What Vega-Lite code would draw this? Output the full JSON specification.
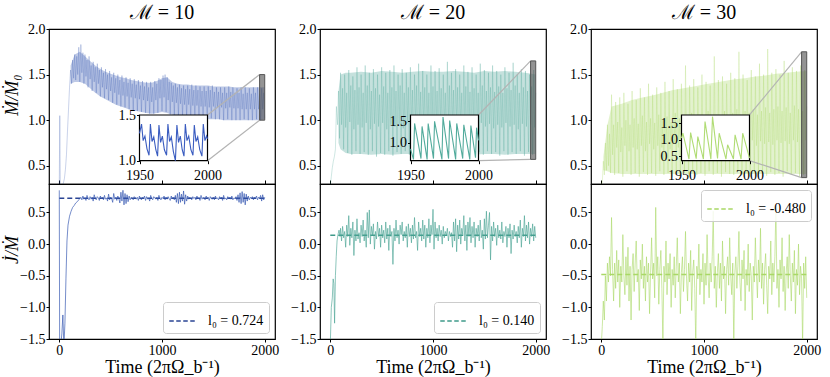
{
"$schema":"https://vega.github.io/schema/vega-lite/v6.json",
"padding":{"left":2,"top":2,"right":2,"bottom":0},
"background":"white",
"datasets":{
"band10":[{"t":110,"v":1.40,"v2":1.60},{"t":150,"v":1.42,"v2":1.72},{"t":200,"v":1.42,"v2":1.75},{"t":250,"v":1.40,"v2":1.70},{"t":300,"v":1.35,"v2":1.65},{"t":350,"v":1.30,"v2":1.60},{"t":400,"v":1.26,"v2":1.56},{"t":450,"v":1.23,"v2":1.53},{"t":500,"v":1.20,"v2":1.51},{"t":550,"v":1.17,"v2":1.49},{"t":600,"v":1.15,"v2":1.47},{"t":650,"v":1.13,"v2":1.46},{"t":700,"v":1.11,"v2":1.44},{"t":750,"v":1.10,"v2":1.43},{"t":800,"v":1.09,"v2":1.42},{"t":850,"v":1.08,"v2":1.41},{"t":900,"v":1.07,"v2":1.41},{"t":950,"v":1.08,"v2":1.43},{"t":1000,"v":1.09,"v2":1.46},{"t":1050,"v":1.08,"v2":1.47},{"t":1100,"v":1.06,"v2":1.42},{"t":1150,"v":1.05,"v2":1.40},{"t":1200,"v":1.04,"v2":1.39},{"t":1250,"v":1.03,"v2":1.39},{"t":1300,"v":1.03,"v2":1.38},{"t":1350,"v":1.02,"v2":1.38},{"t":1400,"v":1.02,"v2":1.38},{"t":1450,"v":1.01,"v2":1.38},{"t":1500,"v":1.01,"v2":1.37},{"t":1550,"v":1.01,"v2":1.37},{"t":1600,"v":1.00,"v2":1.37},{"t":1650,"v":1.00,"v2":1.37},{"t":1700,"v":1.00,"v2":1.36},{"t":1750,"v":1.00,"v2":1.36},{"t":1800,"v":1.00,"v2":1.36},{"t":1850,"v":1.00,"v2":1.36},{"t":1900,"v":1.00,"v2":1.36},{"t":1950,"v":1.00,"v2":1.36},{"t":2000,"v":1.01,"v2":1.36}],
"band20":[{"t":80,"v":0.75,"v2":1.32},{"t":100,"v":0.68,"v2":1.50},{"t":150,"v":0.64,"v2":1.52},{"t":200,"v":0.63,"v2":1.52},{"t":300,"v":0.63,"v2":1.53},{"t":400,"v":0.62,"v2":1.52},{"t":500,"v":0.63,"v2":1.54},{"t":600,"v":0.62,"v2":1.53},{"t":700,"v":0.63,"v2":1.52},{"t":800,"v":0.63,"v2":1.53},{"t":900,"v":0.62,"v2":1.54},{"t":1000,"v":0.63,"v2":1.53},{"t":1100,"v":0.63,"v2":1.53},{"t":1200,"v":0.62,"v2":1.54},{"t":1300,"v":0.63,"v2":1.53},{"t":1400,"v":0.62,"v2":1.52},{"t":1500,"v":0.63,"v2":1.54},{"t":1600,"v":0.63,"v2":1.53},{"t":1700,"v":0.62,"v2":1.54},{"t":1800,"v":0.63,"v2":1.53},{"t":1900,"v":0.63,"v2":1.52},{"t":2000,"v":0.63,"v2":1.50}],
"band30":[{"t":20,"v":0.45,"v2":0.60},{"t":60,"v":0.44,"v2":0.95},{"t":100,"v":0.42,"v2":1.15},{"t":200,"v":0.41,"v2":1.18},{"t":300,"v":0.41,"v2":1.22},{"t":400,"v":0.41,"v2":1.25},{"t":500,"v":0.41,"v2":1.27},{"t":600,"v":0.41,"v2":1.30},{"t":700,"v":0.41,"v2":1.33},{"t":800,"v":0.41,"v2":1.35},{"t":900,"v":0.41,"v2":1.37},{"t":1000,"v":0.41,"v2":1.39},{"t":1100,"v":0.41,"v2":1.41},{"t":1200,"v":0.41,"v2":1.43},{"t":1300,"v":0.41,"v2":1.45},{"t":1400,"v":0.41,"v2":1.46},{"t":1500,"v":0.41,"v2":1.48},{"t":1600,"v":0.41,"v2":1.49},{"t":1700,"v":0.41,"v2":1.51},{"t":1800,"v":0.41,"v2":1.52},{"t":1900,"v":0.41,"v2":1.53},{"t":2000,"v":0.41,"v2":1.54}],
"top10":[{"t":0,"v":0.28},{"t":5,"v":1.05},{"t":10,"v":0.27},{"t":20,"v":0.25},{"t":30,"v":0.28},{"t":40,"v":0.31},{"t":50,"v":0.36},{"t":60,"v":0.46},{"t":70,"v":0.62},{"t":80,"v":0.88},{"t":90,"v":1.12},{"t":100,"v":1.36},{"t":110,"v":1.55},{"t":120,"v":1.40},{"t":130,"v":1.66},{"t":140,"v":1.46},{"t":150,"v":1.72},{"t":160,"v":1.44},{"t":170,"v":1.70},{"t":180,"v":1.50},{"t":190,"v":1.80},{"t":200,"v":1.42},{"t":210,"v":1.83},{"t":220,"v":1.52},{"t":230,"v":1.74},{"t":240,"v":1.40},{"t":250,"v":1.72},{"t":260,"v":1.48},{"t":270,"v":1.66},{"t":280,"v":1.36},{"t":290,"v":1.70},{"t":300,"v":1.45},{"t":310,"v":1.60},{"t":320,"v":1.32},{"t":330,"v":1.64},{"t":340,"v":1.42},{"t":350,"v":1.58},{"t":360,"v":1.30},{"t":370,"v":1.62},{"t":380,"v":1.40},{"t":390,"v":1.55},{"t":400,"v":1.26},{"t":410,"v":1.58},{"t":420,"v":1.36},{"t":430,"v":1.52},{"t":440,"v":1.24},{"t":450,"v":1.56},{"t":460,"v":1.34},{"t":470,"v":1.50},{"t":480,"v":1.22},{"t":490,"v":1.54},{"t":500,"v":1.32},{"t":510,"v":1.47},{"t":520,"v":1.19},{"t":530,"v":1.52},{"t":540,"v":1.30},{"t":550,"v":1.46},{"t":560,"v":1.17},{"t":570,"v":1.50},{"t":580,"v":1.28},{"t":590,"v":1.44},{"t":600,"v":1.15},{"t":610,"v":1.49},{"t":620,"v":1.27},{"t":630,"v":1.42},{"t":640,"v":1.14},{"t":650,"v":1.47},{"t":660,"v":1.26},{"t":670,"v":1.41},{"t":680,"v":1.12},{"t":690,"v":1.46},{"t":700,"v":1.25},{"t":710,"v":1.40},{"t":720,"v":1.11},{"t":730,"v":1.45},{"t":740,"v":1.24},{"t":750,"v":1.39},{"t":760,"v":1.10},{"t":770,"v":1.44},{"t":780,"v":1.23},{"t":790,"v":1.38},{"t":800,"v":1.09},{"t":810,"v":1.43},{"t":820,"v":1.22},{"t":830,"v":1.37},{"t":840,"v":1.08},{"t":850,"v":1.42},{"t":860,"v":1.21},{"t":870,"v":1.36},{"t":880,"v":1.07},{"t":890,"v":1.42},{"t":900,"v":1.20},{"t":910,"v":1.36},{"t":920,"v":1.07},{"t":930,"v":1.43},{"t":940,"v":1.22},{"t":950,"v":1.40},{"t":960,"v":1.08},{"t":970,"v":1.46},{"t":980,"v":1.24},{"t":990,"v":1.44},{"t":1000,"v":1.10},{"t":1010,"v":1.49},{"t":1020,"v":1.25},{"t":1030,"v":1.50},{"t":1040,"v":1.09},{"t":1050,"v":1.47},{"t":1060,"v":1.22},{"t":1070,"v":1.42},{"t":1080,"v":1.06},{"t":1090,"v":1.41},{"t":1100,"v":1.20},{"t":1110,"v":1.38},{"t":1120,"v":1.05},{"t":1130,"v":1.40},{"t":1140,"v":1.19},{"t":1150,"v":1.36},{"t":1160,"v":1.04},{"t":1170,"v":1.39},{"t":1180,"v":1.18},{"t":1190,"v":1.35},{"t":1200,"v":1.04},{"t":1210,"v":1.38},{"t":1220,"v":1.17},{"t":1230,"v":1.34},{"t":1240,"v":1.03},{"t":1250,"v":1.38},{"t":1260,"v":1.17},{"t":1270,"v":1.34},{"t":1280,"v":1.03},{"t":1290,"v":1.39},{"t":1300,"v":1.16},{"t":1310,"v":1.33},{"t":1320,"v":1.02},{"t":1330,"v":1.38},{"t":1340,"v":1.16},{"t":1350,"v":1.33},{"t":1360,"v":1.02},{"t":1370,"v":1.37},{"t":1380,"v":1.15},{"t":1390,"v":1.32},{"t":1400,"v":1.02},{"t":1410,"v":1.37},{"t":1420,"v":1.15},{"t":1430,"v":1.32},{"t":1440,"v":1.01},{"t":1450,"v":1.37},{"t":1460,"v":1.14},{"t":1470,"v":1.33},{"t":1480,"v":1.02},{"t":1490,"v":1.38},{"t":1500,"v":1.15},{"t":1510,"v":1.31},{"t":1520,"v":1.01},{"t":1530,"v":1.36},{"t":1540,"v":1.14},{"t":1550,"v":1.31},{"t":1560,"v":1.01},{"t":1570,"v":1.36},{"t":1580,"v":1.14},{"t":1590,"v":1.30},{"t":1600,"v":1.00},{"t":1610,"v":1.36},{"t":1620,"v":1.13},{"t":1630,"v":1.30},{"t":1640,"v":1.01},{"t":1650,"v":1.37},{"t":1660,"v":1.14},{"t":1670,"v":1.31},{"t":1680,"v":1.00},{"t":1690,"v":1.36},{"t":1700,"v":1.13},{"t":1710,"v":1.30},{"t":1720,"v":1.00},{"t":1730,"v":1.35},{"t":1740,"v":1.13},{"t":1750,"v":1.30},{"t":1760,"v":1.00},{"t":1770,"v":1.36},{"t":1780,"v":1.12},{"t":1790,"v":1.29},{"t":1800,"v":1.01},{"t":1810,"v":1.36},{"t":1820,"v":1.12},{"t":1830,"v":1.30},{"t":1840,"v":1.00},{"t":1850,"v":1.35},{"t":1860,"v":1.12},{"t":1870,"v":1.29},{"t":1880,"v":1.00},{"t":1890,"v":1.36},{"t":1900,"v":1.12},{"t":1910,"v":1.30},{"t":1920,"v":1.01},{"t":1930,"v":1.36},{"t":1940,"v":1.12},{"t":1950,"v":1.29},{"t":1960,"v":1.00},{"t":1970,"v":1.35},{"t":1980,"v":1.12},{"t":1990,"v":1.30},{"t":2000,"v":1.02}],
"top20":[{"t":0,"v":0.28},{"t":10,"v":0.38},{"t":20,"v":0.48},{"t":30,"v":0.55},{"t":40,"v":0.6},{"t":50,"v":0.68},{"t":60,"v":1.15},{"t":70,"v":0.95},{"t":80,"v":1.32},{"t":90,"v":0.80},{"t":100,"v":1.52},{"t":110,"v":0.95},{"t":120,"v":1.35},{"t":130,"v":0.68},{"t":140,"v":1.50},{"t":150,"v":0.92},{"t":160,"v":1.30},{"t":170,"v":0.64},{"t":180,"v":1.55},{"t":190,"v":0.98},{"t":200,"v":1.38},{"t":210,"v":0.62},{"t":220,"v":1.48},{"t":230,"v":0.90},{"t":240,"v":1.33},{"t":250,"v":0.66},{"t":260,"v":1.58},{"t":270,"v":0.95},{"t":280,"v":1.36},{"t":290,"v":0.63},{"t":300,"v":1.50},{"t":310,"v":0.92},{"t":320,"v":1.30},{"t":330,"v":0.65},{"t":340,"v":1.60},{"t":350,"v":0.97},{"t":360,"v":1.38},{"t":370,"v":0.62},{"t":380,"v":1.52},{"t":390,"v":0.90},{"t":400,"v":1.32},{"t":410,"v":0.66},{"t":420,"v":1.56},{"t":430,"v":0.96},{"t":440,"v":1.35},{"t":450,"v":0.60},{"t":460,"v":1.50},{"t":470,"v":0.93},{"t":480,"v":1.28},{"t":490,"v":0.64},{"t":500,"v":1.58},{"t":510,"v":0.97},{"t":520,"v":1.37},{"t":530,"v":0.62},{"t":540,"v":1.52},{"t":550,"v":0.90},{"t":560,"v":1.30},{"t":570,"v":0.66},{"t":580,"v":1.55},{"t":590,"v":0.95},{"t":600,"v":1.36},{"t":610,"v":0.61},{"t":620,"v":1.60},{"t":630,"v":0.93},{"t":640,"v":1.32},{"t":650,"v":0.65},{"t":660,"v":1.50},{"t":670,"v":0.96},{"t":680,"v":1.38},{"t":690,"v":0.63},{"t":700,"v":1.56},{"t":710,"v":0.91},{"t":720,"v":1.30},{"t":730,"v":0.66},{"t":740,"v":1.52},{"t":750,"v":0.97},{"t":760,"v":1.36},{"t":770,"v":0.62},{"t":780,"v":1.58},{"t":790,"v":0.92},{"t":800,"v":1.33},{"t":810,"v":0.65},{"t":820,"v":1.50},{"t":830,"v":0.96},{"t":840,"v":1.38},{"t":850,"v":0.63},{"t":860,"v":1.62},{"t":870,"v":0.93},{"t":880,"v":1.31},{"t":890,"v":0.66},{"t":900,"v":1.54},{"t":910,"v":0.95},{"t":920,"v":1.36},{"t":930,"v":0.61},{"t":940,"v":1.50},{"t":950,"v":0.92},{"t":960,"v":1.30},{"t":970,"v":0.65},{"t":980,"v":1.60},{"t":990,"v":0.97},{"t":1000,"v":1.37},{"t":1010,"v":0.62},{"t":1020,"v":1.54},{"t":1030,"v":0.90},{"t":1040,"v":1.32},{"t":1050,"v":0.66},{"t":1060,"v":1.57},{"t":1070,"v":0.96},{"t":1080,"v":1.35},{"t":1090,"v":0.63},{"t":1100,"v":1.50},{"t":1110,"v":0.93},{"t":1120,"v":1.30},{"t":1130,"v":0.65},{"t":1140,"v":1.64},{"t":1150,"v":0.95},{"t":1160,"v":1.38},{"t":1170,"v":0.61},{"t":1180,"v":1.52},{"t":1190,"v":0.91},{"t":1200,"v":1.33},{"t":1210,"v":0.66},{"t":1220,"v":1.56},{"t":1230,"v":0.97},{"t":1240,"v":1.36},{"t":1250,"v":0.62},{"t":1260,"v":1.50},{"t":1270,"v":0.93},{"t":1280,"v":1.30},{"t":1290,"v":0.65},{"t":1300,"v":1.60},{"t":1310,"v":0.96},{"t":1320,"v":1.37},{"t":1330,"v":0.63},{"t":1340,"v":1.53},{"t":1350,"v":0.92},{"t":1360,"v":1.31},{"t":1370,"v":0.66},{"t":1380,"v":1.58},{"t":1390,"v":0.95},{"t":1400,"v":1.35},{"t":1410,"v":0.61},{"t":1420,"v":1.50},{"t":1430,"v":0.90},{"t":1440,"v":1.30},{"t":1450,"v":0.65},{"t":1460,"v":1.62},{"t":1470,"v":0.97},{"t":1480,"v":1.38},{"t":1490,"v":0.62},{"t":1500,"v":1.55},{"t":1510,"v":0.93},{"t":1520,"v":1.32},{"t":1530,"v":0.66},{"t":1540,"v":1.52},{"t":1550,"v":0.96},{"t":1560,"v":1.36},{"t":1570,"v":0.63},{"t":1580,"v":1.60},{"t":1590,"v":0.91},{"t":1600,"v":1.31},{"t":1610,"v":0.65},{"t":1620,"v":1.54},{"t":1630,"v":0.95},{"t":1640,"v":1.37},{"t":1650,"v":0.61},{"t":1660,"v":1.50},{"t":1670,"v":0.92},{"t":1680,"v":1.30},{"t":1690,"v":0.66},{"t":1700,"v":1.58},{"t":1710,"v":0.97},{"t":1720,"v":1.35},{"t":1730,"v":0.62},{"t":1740,"v":1.52},{"t":1750,"v":0.93},{"t":1760,"v":1.33},{"t":1770,"v":0.65},{"t":1780,"v":1.63},{"t":1790,"v":0.95},{"t":1800,"v":1.38},{"t":1810,"v":0.63},{"t":1820,"v":1.50},{"t":1830,"v":0.90},{"t":1840,"v":1.30},{"t":1850,"v":0.66},{"t":1860,"v":1.56},{"t":1870,"v":0.96},{"t":1880,"v":1.36},{"t":1890,"v":0.61},{"t":1900,"v":1.54},{"t":1910,"v":0.93},{"t":1920,"v":1.32},{"t":1930,"v":0.65},{"t":1940,"v":1.50},{"t":1950,"v":0.95},{"t":1960,"v":1.37},{"t":1970,"v":0.62},{"t":1980,"v":1.55},{"t":1990,"v":0.92},{"t":2000,"v":1.30}],
"top30":[{"t":0,"v":0.30},{"t":10,"v":0.32},{"t":20,"v":0.55},{"t":30,"v":0.40},{"t":40,"v":0.75},{"t":50,"v":0.45},{"t":60,"v":0.95},{"t":70,"v":0.50},{"t":80,"v":0.85},{"t":90,"v":0.42},{"t":100,"v":1.28},{"t":110,"v":0.62},{"t":120,"v":0.95},{"t":130,"v":0.40},{"t":140,"v":1.20},{"t":150,"v":0.70},{"t":160,"v":0.98},{"t":170,"v":0.42},{"t":180,"v":1.25},{"t":190,"v":0.65},{"t":200,"v":0.92},{"t":210,"v":0.38},{"t":220,"v":1.30},{"t":230,"v":0.72},{"t":240,"v":1.00},{"t":250,"v":0.44},{"t":260,"v":1.18},{"t":270,"v":0.66},{"t":280,"v":0.95},{"t":290,"v":0.40},{"t":300,"v":1.32},{"t":310,"v":0.70},{"t":320,"v":1.02},{"t":330,"v":0.42},{"t":340,"v":1.22},{"t":350,"v":0.68},{"t":360,"v":0.96},{"t":370,"v":0.38},{"t":380,"v":1.35},{"t":390,"v":0.72},{"t":400,"v":1.05},{"t":410,"v":0.43},{"t":420,"v":1.25},{"t":430,"v":0.66},{"t":440,"v":0.98},{"t":450,"v":0.40},{"t":460,"v":1.40},{"t":470,"v":0.74},{"t":480,"v":1.02},{"t":490,"v":0.42},{"t":500,"v":1.28},{"t":510,"v":0.68},{"t":520,"v":0.97},{"t":530,"v":0.39},{"t":540,"v":1.36},{"t":550,"v":0.72},{"t":560,"v":1.06},{"t":570,"v":0.44},{"t":580,"v":1.30},{"t":590,"v":0.70},{"t":600,"v":1.00},{"t":610,"v":0.40},{"t":620,"v":1.42},{"t":630,"v":0.75},{"t":640,"v":1.04},{"t":650,"v":0.42},{"t":660,"v":1.32},{"t":670,"v":0.68},{"t":680,"v":0.98},{"t":690,"v":0.38},{"t":700,"v":1.45},{"t":710,"v":0.74},{"t":720,"v":1.08},{"t":730,"v":0.44},{"t":740,"v":1.34},{"t":750,"v":0.70},{"t":760,"v":1.02},{"t":770,"v":0.40},{"t":780,"v":1.40},{"t":790,"v":0.76},{"t":800,"v":1.05},{"t":810,"v":0.42},{"t":820,"v":1.60},{"t":830,"v":0.70},{"t":840,"v":1.00},{"t":850,"v":0.38},{"t":860,"v":1.38},{"t":870,"v":0.74},{"t":880,"v":1.08},{"t":890,"v":0.43},{"t":900,"v":1.45},{"t":910,"v":0.72},{"t":920,"v":1.03},{"t":930,"v":0.40},{"t":940,"v":1.36},{"t":950,"v":0.76},{"t":960,"v":1.06},{"t":970,"v":0.42},{"t":980,"v":1.50},{"t":990,"v":0.70},{"t":1000,"v":1.02},{"t":1010,"v":0.39},{"t":1020,"v":1.42},{"t":1030,"v":0.75},{"t":1040,"v":1.10},{"t":1050,"v":0.44},{"t":1060,"v":1.38},{"t":1070,"v":0.72},{"t":1080,"v":1.04},{"t":1090,"v":0.40},{"t":1100,"v":1.70},{"t":1110,"v":0.76},{"t":1120,"v":1.06},{"t":1130,"v":0.42},{"t":1140,"v":1.44},{"t":1150,"v":0.70},{"t":1160,"v":1.02},{"t":1170,"v":0.38},{"t":1180,"v":1.48},{"t":1190,"v":0.77},{"t":1200,"v":1.10},{"t":1210,"v":0.43},{"t":1220,"v":1.40},{"t":1230,"v":0.74},{"t":1240,"v":1.05},{"t":1250,"v":0.41},{"t":1260,"v":1.52},{"t":1270,"v":0.72},{"t":1280,"v":1.08},{"t":1290,"v":0.40},{"t":1300,"v":1.46},{"t":1310,"v":0.78},{"t":1320,"v":1.12},{"t":1330,"v":0.44},{"t":1340,"v":1.75},{"t":1350,"v":0.73},{"t":1360,"v":1.06},{"t":1370,"v":0.40},{"t":1380,"v":1.50},{"t":1390,"v":0.76},{"t":1400,"v":1.10},{"t":1410,"v":0.42},{"t":1420,"v":1.44},{"t":1430,"v":0.74},{"t":1440,"v":1.08},{"t":1450,"v":0.38},{"t":1460,"v":1.55},{"t":1470,"v":0.78},{"t":1480,"v":1.12},{"t":1490,"v":0.43},{"t":1500,"v":1.48},{"t":1510,"v":0.72},{"t":1520,"v":1.06},{"t":1530,"v":0.40},{"t":1540,"v":1.62},{"t":1550,"v":0.77},{"t":1560,"v":1.10},{"t":1570,"v":0.42},{"t":1580,"v":1.50},{"t":1590,"v":0.74},{"t":1600,"v":1.14},{"t":1610,"v":0.39},{"t":1620,"v":1.78},{"t":1630,"v":0.76},{"t":1640,"v":1.08},{"t":1650,"v":0.43},{"t":1660,"v":1.52},{"t":1670,"v":0.73},{"t":1680,"v":1.12},{"t":1690,"v":0.40},{"t":1700,"v":1.56},{"t":1710,"v":0.78},{"t":1720,"v":1.15},{"t":1730,"v":0.42},{"t":1740,"v":1.50},{"t":1750,"v":0.75},{"t":1760,"v":1.10},{"t":1770,"v":0.38},{"t":1780,"v":1.65},{"t":1790,"v":0.77},{"t":1800,"v":1.14},{"t":1810,"v":0.44},{"t":1820,"v":1.52},{"t":1830,"v":0.74},{"t":1840,"v":1.08},{"t":1850,"v":0.40},{"t":1860,"v":1.58},{"t":1870,"v":0.78},{"t":1880,"v":1.16},{"t":1890,"v":0.42},{"t":1900,"v":1.54},{"t":1910,"v":0.76},{"t":1920,"v":1.12},{"t":1930,"v":0.38},{"t":1940,"v":1.60},{"t":1950,"v":0.75},{"t":1960,"v":1.10},{"t":1970,"v":0.40},{"t":1980,"v":1.55},{"t":1990,"v":0.78},{"t":2000,"v":1.15}],
"bot10":[{"t":0,"v":0.85},{"t":4,"v":-1.8},{"t":15,"v":-1.6},{"t":25,"v":-1.42},{"t":35,"v":-1.12},{"t":45,"v":-1.62},{"t":55,"v":-1.25},{"t":65,"v":-0.55},{"t":75,"v":0.05},{"t":85,"v":0.3},{"t":100,"v":0.44},{"t":115,"v":0.52},{"t":130,"v":0.58},{"t":145,"v":0.61},{"t":160,"v":0.65},{"t":175,"v":0.67},{"t":190,"v":0.70},{"t":200,"v":0.72},{"t":210,"v":0.74},{"t":220,"v":0.70},{"t":230,"v":0.76},{"t":240,"v":0.71},{"t":250,"v":0.73},{"t":260,"v":0.69},{"t":270,"v":0.77},{"t":280,"v":0.72},{"t":290,"v":0.70},{"t":300,"v":0.75},{"t":310,"v":0.71},{"t":320,"v":0.74},{"t":330,"v":0.68},{"t":340,"v":0.78},{"t":350,"v":0.72},{"t":360,"v":0.70},{"t":370,"v":0.75},{"t":380,"v":0.73},{"t":390,"v":0.69},{"t":400,"v":0.76},{"t":410,"v":0.72},{"t":420,"v":0.74},{"t":430,"v":0.70},{"t":440,"v":0.77},{"t":450,"v":0.71},{"t":460,"v":0.73},{"t":470,"v":0.68},{"t":480,"v":0.79},{"t":490,"v":0.70},{"t":500,"v":0.74},{"t":510,"v":0.72},{"t":520,"v":0.66},{"t":530,"v":0.80},{"t":540,"v":0.71},{"t":550,"v":0.74},{"t":560,"v":0.69},{"t":570,"v":0.76},{"t":580,"v":0.72},{"t":590,"v":0.65},{"t":600,"v":0.82},{"t":610,"v":0.68},{"t":620,"v":0.85},{"t":630,"v":0.62},{"t":640,"v":0.80},{"t":650,"v":0.64},{"t":660,"v":0.78},{"t":670,"v":0.67},{"t":680,"v":0.76},{"t":690,"v":0.70},{"t":700,"v":0.74},{"t":710,"v":0.72},{"t":720,"v":0.70},{"t":730,"v":0.75},{"t":740,"v":0.73},{"t":750,"v":0.71},{"t":760,"v":0.74},{"t":770,"v":0.69},{"t":780,"v":0.76},{"t":790,"v":0.72},{"t":800,"v":0.70},{"t":810,"v":0.74},{"t":820,"v":0.72},{"t":830,"v":0.76},{"t":840,"v":0.69},{"t":850,"v":0.75},{"t":860,"v":0.71},{"t":870,"v":0.73},{"t":880,"v":0.68},{"t":890,"v":0.77},{"t":900,"v":0.72},{"t":910,"v":0.70},{"t":920,"v":0.75},{"t":930,"v":0.73},{"t":940,"v":0.71},{"t":950,"v":0.74},{"t":960,"v":0.69},{"t":970,"v":0.77},{"t":980,"v":0.72},{"t":990,"v":0.70},{"t":1000,"v":0.74},{"t":1010,"v":0.72},{"t":1020,"v":0.76},{"t":1030,"v":0.70},{"t":1040,"v":0.74},{"t":1050,"v":0.71},{"t":1060,"v":0.75},{"t":1070,"v":0.72},{"t":1080,"v":0.69},{"t":1090,"v":0.76},{"t":1100,"v":0.72},{"t":1110,"v":0.74},{"t":1120,"v":0.70},{"t":1130,"v":0.77},{"t":1140,"v":0.66},{"t":1150,"v":0.80},{"t":1160,"v":0.64},{"t":1170,"v":0.82},{"t":1180,"v":0.66},{"t":1190,"v":0.79},{"t":1200,"v":0.68},{"t":1210,"v":0.84},{"t":1220,"v":0.63},{"t":1230,"v":0.78},{"t":1240,"v":0.68},{"t":1250,"v":0.76},{"t":1260,"v":0.71},{"t":1270,"v":0.74},{"t":1280,"v":0.72},{"t":1290,"v":0.70},{"t":1300,"v":0.75},{"t":1310,"v":0.72},{"t":1320,"v":0.74},{"t":1330,"v":0.70},{"t":1340,"v":0.76},{"t":1350,"v":0.72},{"t":1360,"v":0.73},{"t":1370,"v":0.69},{"t":1380,"v":0.77},{"t":1390,"v":0.71},{"t":1400,"v":0.74},{"t":1410,"v":0.72},{"t":1420,"v":0.70},{"t":1430,"v":0.76},{"t":1440,"v":0.72},{"t":1450,"v":0.74},{"t":1460,"v":0.69},{"t":1470,"v":0.75},{"t":1480,"v":0.72},{"t":1490,"v":0.71},{"t":1500,"v":0.74},{"t":1510,"v":0.70},{"t":1520,"v":0.76},{"t":1530,"v":0.72},{"t":1540,"v":0.73},{"t":1550,"v":0.70},{"t":1560,"v":0.75},{"t":1570,"v":0.72},{"t":1580,"v":0.74},{"t":1590,"v":0.69},{"t":1600,"v":0.77},{"t":1610,"v":0.71},{"t":1620,"v":0.73},{"t":1630,"v":0.70},{"t":1640,"v":0.75},{"t":1650,"v":0.72},{"t":1660,"v":0.74},{"t":1670,"v":0.71},{"t":1680,"v":0.76},{"t":1690,"v":0.70},{"t":1700,"v":0.73},{"t":1710,"v":0.72},{"t":1720,"v":0.75},{"t":1730,"v":0.69},{"t":1740,"v":0.78},{"t":1750,"v":0.66},{"t":1760,"v":0.81},{"t":1770,"v":0.64},{"t":1780,"v":0.83},{"t":1790,"v":0.66},{"t":1800,"v":0.80},{"t":1810,"v":0.62},{"t":1820,"v":0.79},{"t":1830,"v":0.68},{"t":1840,"v":0.76},{"t":1850,"v":0.70},{"t":1860,"v":0.74},{"t":1870,"v":0.72},{"t":1880,"v":0.75},{"t":1890,"v":0.70},{"t":1900,"v":0.74},{"t":1910,"v":0.72},{"t":1920,"v":0.76},{"t":1930,"v":0.70},{"t":1940,"v":0.74},{"t":1950,"v":0.72},{"t":1960,"v":0.77},{"t":1970,"v":0.68},{"t":1980,"v":0.78},{"t":1990,"v":0.70},{"t":2000,"v":0.74}],
"bot20":[{"t":0,"v":-1.6},{"t":10,"v":-1.0},{"t":20,"v":-0.85},{"t":28,"v":-0.55},{"t":35,"v":-0.62},{"t":42,"v":-1.25},{"t":50,"v":-0.5},{"t":58,"v":-0.2},{"t":66,"v":0.05},{"t":75,"v":0.15},{"t":85,"v":0.22},{"t":95,"v":0.12},{"t":100,"v":0.25},{"t":110,"v":0.05},{"t":120,"v":0.28},{"t":130,"v":0.10},{"t":140,"v":0.20},{"t":150,"v":-0.05},{"t":160,"v":0.30},{"t":170,"v":0.12},{"t":180,"v":0.45},{"t":190,"v":-0.02},{"t":200,"v":0.25},{"t":210,"v":0.10},{"t":220,"v":0.35},{"t":230,"v":-0.18},{"t":240,"v":0.22},{"t":250,"v":0.05},{"t":260,"v":0.40},{"t":270,"v":0.08},{"t":280,"v":0.18},{"t":290,"v":0.02},{"t":300,"v":0.30},{"t":310,"v":0.12},{"t":320,"v":0.38},{"t":330,"v":0.05},{"t":340,"v":0.22},{"t":350,"v":-0.05},{"t":360,"v":0.50},{"t":370,"v":0.10},{"t":380,"v":0.54},{"t":390,"v":0.00},{"t":400,"v":0.28},{"t":410,"v":0.14},{"t":420,"v":0.32},{"t":430,"v":-0.08},{"t":440,"v":0.20},{"t":450,"v":0.08},{"t":460,"v":0.35},{"t":470,"v":0.12},{"t":480,"v":0.25},{"t":490,"v":-0.05},{"t":500,"v":0.30},{"t":510,"v":0.10},{"t":520,"v":0.22},{"t":530,"v":0.02},{"t":540,"v":0.35},{"t":550,"v":0.08},{"t":560,"v":0.25},{"t":570,"v":-0.10},{"t":580,"v":0.30},{"t":590,"v":0.12},{"t":600,"v":0.20},{"t":610,"v":-0.32},{"t":620,"v":0.25},{"t":630,"v":0.05},{"t":640,"v":0.38},{"t":650,"v":0.10},{"t":660,"v":0.22},{"t":670,"v":0.00},{"t":680,"v":0.30},{"t":690,"v":0.15},{"t":700,"v":0.35},{"t":710,"v":0.05},{"t":720,"v":0.20},{"t":730,"v":0.10},{"t":740,"v":0.28},{"t":750,"v":-0.05},{"t":760,"v":0.32},{"t":770,"v":0.12},{"t":780,"v":0.25},{"t":790,"v":0.02},{"t":800,"v":0.30},{"t":810,"v":0.08},{"t":820,"v":0.42},{"t":830,"v":0.10},{"t":840,"v":0.20},{"t":850,"v":-0.10},{"t":860,"v":0.35},{"t":870,"v":0.12},{"t":880,"v":0.25},{"t":890,"v":0.05},{"t":900,"v":0.38},{"t":910,"v":0.08},{"t":920,"v":0.30},{"t":930,"v":-0.05},{"t":940,"v":0.25},{"t":950,"v":0.10},{"t":960,"v":0.40},{"t":970,"v":0.02},{"t":980,"v":0.30},{"t":990,"v":0.15},{"t":1000,"v":0.55},{"t":1010,"v":-0.08},{"t":1020,"v":0.35},{"t":1030,"v":0.10},{"t":1040,"v":0.25},{"t":1050,"v":0.05},{"t":1060,"v":0.30},{"t":1070,"v":0.12},{"t":1080,"v":0.22},{"t":1090,"v":0.00},{"t":1100,"v":0.28},{"t":1110,"v":0.10},{"t":1120,"v":0.20},{"t":1130,"v":0.14},{"t":1140,"v":0.25},{"t":1150,"v":0.05},{"t":1160,"v":0.20},{"t":1170,"v":0.12},{"t":1180,"v":0.18},{"t":1190,"v":-0.05},{"t":1200,"v":0.35},{"t":1210,"v":0.05},{"t":1220,"v":0.40},{"t":1230,"v":-0.12},{"t":1240,"v":0.30},{"t":1250,"v":0.08},{"t":1260,"v":0.38},{"t":1270,"v":0.00},{"t":1280,"v":0.25},{"t":1290,"v":0.15},{"t":1300,"v":0.45},{"t":1310,"v":0.05},{"t":1320,"v":0.30},{"t":1330,"v":-0.10},{"t":1340,"v":0.35},{"t":1350,"v":0.12},{"t":1360,"v":0.42},{"t":1370,"v":0.02},{"t":1380,"v":0.28},{"t":1390,"v":0.10},{"t":1400,"v":0.35},{"t":1410,"v":-0.05},{"t":1420,"v":0.25},{"t":1430,"v":0.12},{"t":1440,"v":0.30},{"t":1450,"v":0.05},{"t":1460,"v":0.38},{"t":1470,"v":0.10},{"t":1480,"v":0.22},{"t":1490,"v":-0.08},{"t":1500,"v":0.40},{"t":1510,"v":0.08},{"t":1520,"v":0.52},{"t":1530,"v":0.10},{"t":1540,"v":0.30},{"t":1550,"v":0.50},{"t":1560,"v":-0.25},{"t":1570,"v":0.28},{"t":1580,"v":0.05},{"t":1590,"v":0.35},{"t":1600,"v":0.12},{"t":1610,"v":0.25},{"t":1620,"v":-0.02},{"t":1630,"v":0.30},{"t":1640,"v":0.10},{"t":1650,"v":0.22},{"t":1660,"v":0.08},{"t":1670,"v":0.35},{"t":1680,"v":0.02},{"t":1690,"v":0.20},{"t":1700,"v":0.12},{"t":1710,"v":0.28},{"t":1720,"v":-0.05},{"t":1730,"v":0.25},{"t":1740,"v":0.10},{"t":1750,"v":0.32},{"t":1760,"v":-0.15},{"t":1770,"v":0.22},{"t":1780,"v":0.08},{"t":1790,"v":0.30},{"t":1800,"v":0.12},{"t":1810,"v":0.20},{"t":1820,"v":0.02},{"t":1830,"v":0.28},{"t":1840,"v":0.10},{"t":1850,"v":0.38},{"t":1860,"v":-0.05},{"t":1870,"v":0.25},{"t":1880,"v":0.12},{"t":1890,"v":0.45},{"t":1900,"v":0.05},{"t":1910,"v":0.30},{"t":1920,"v":0.10},{"t":1930,"v":0.35},{"t":1940,"v":0.00},{"t":1950,"v":0.25},{"t":1960,"v":0.12},{"t":1970,"v":0.32},{"t":1980,"v":0.05},{"t":1990,"v":0.28},{"t":2000,"v":0.10}],
"bot30":[{"t":0,"v":-1.6},{"t":10,"v":-1.3},{"t":20,"v":-0.9},{"t":30,"v":-1.2},{"t":40,"v":-0.5},{"t":50,"v":-0.9},{"t":60,"v":-0.3},{"t":70,"v":-0.6},{"t":80,"v":-0.2},{"t":90,"v":-0.5},{"t":100,"v":0.42},{"t":110,"v":-0.4},{"t":120,"v":-0.9},{"t":130,"v":-0.3},{"t":140,"v":-0.7},{"t":150,"v":-0.1},{"t":160,"v":-0.6},{"t":170,"v":-0.25},{"t":180,"v":-1.0},{"t":190,"v":-0.35},{"t":200,"v":-0.6},{"t":210,"v":0.15},{"t":220,"v":-0.5},{"t":230,"v":-0.8},{"t":240,"v":-0.2},{"t":250,"v":-0.65},{"t":260,"v":-0.05},{"t":270,"v":-0.9},{"t":280,"v":-0.35},{"t":290,"v":-1.2},{"t":300,"v":-0.4},{"t":310,"v":-0.15},{"t":320,"v":-0.75},{"t":330,"v":-0.3},{"t":340,"v":0.05},{"t":350,"v":-0.6},{"t":360,"v":-0.4},{"t":370,"v":-1.05},{"t":380,"v":-0.25},{"t":390,"v":-0.55},{"t":400,"v":0.0},{"t":410,"v":-0.7},{"t":420,"v":-0.35},{"t":430,"v":-0.9},{"t":440,"v":-0.2},{"t":450,"v":-0.6},{"t":460,"v":-0.3},{"t":470,"v":-1.1},{"t":480,"v":-0.45},{"t":490,"v":0.1},{"t":500,"v":-0.55},{"t":510,"v":-0.3},{"t":520,"v":-0.85},{"t":530,"v":0.58},{"t":540,"v":-0.5},{"t":550,"v":-0.2},{"t":560,"v":-0.95},{"t":570,"v":-0.4},{"t":580,"v":-0.1},{"t":590,"v":-0.7},{"t":600,"v":-1.6},{"t":610,"v":-0.35},{"t":620,"v":-0.6},{"t":630,"v":0.05},{"t":640,"v":-0.8},{"t":650,"v":-0.3},{"t":660,"v":-0.55},{"t":670,"v":-0.15},{"t":680,"v":-1.0},{"t":690,"v":-0.4},{"t":700,"v":-0.65},{"t":710,"v":-0.2},{"t":720,"v":-0.85},{"t":730,"v":-0.35},{"t":740,"v":0.1},{"t":750,"v":-0.6},{"t":760,"v":-0.3},{"t":770,"v":-1.1},{"t":780,"v":-0.45},{"t":790,"v":-0.2},{"t":800,"v":-0.75},{"t":810,"v":-0.4},{"t":820,"v":0.2},{"t":830,"v":-0.55},{"t":840,"v":-0.9},{"t":850,"v":-0.3},{"t":860,"v":-0.6},{"t":870,"v":-0.1},{"t":880,"v":-1.05},{"t":890,"v":-0.45},{"t":900,"v":-0.25},{"t":910,"v":-0.7},{"t":920,"v":-1.6},{"t":930,"v":-0.35},{"t":940,"v":-0.55},{"t":950,"v":0.0},{"t":960,"v":-0.8},{"t":970,"v":-0.4},{"t":980,"v":-0.6},{"t":990,"v":-0.15},{"t":1000,"v":-0.95},{"t":1010,"v":-0.3},{"t":1020,"v":-0.65},{"t":1030,"v":0.15},{"t":1040,"v":-0.5},{"t":1050,"v":-0.85},{"t":1060,"v":-0.3},{"t":1070,"v":-0.6},{"t":1080,"v":-0.2},{"t":1090,"v":0.52},{"t":1100,"v":-0.7},{"t":1110,"v":-0.35},{"t":1120,"v":-1.0},{"t":1130,"v":-0.45},{"t":1140,"v":-0.15},{"t":1150,"v":-0.7},{"t":1160,"v":-0.3},{"t":1170,"v":-0.9},{"t":1180,"v":0.05},{"t":1190,"v":-0.55},{"t":1200,"v":-0.35},{"t":1210,"v":-1.1},{"t":1220,"v":-0.4},{"t":1230,"v":-0.2},{"t":1240,"v":-0.65},{"t":1250,"v":0.1},{"t":1260,"v":-0.5},{"t":1270,"v":-0.8},{"t":1280,"v":-0.3},{"t":1290,"v":-1.6},{"t":1300,"v":-0.45},{"t":1310,"v":-0.2},{"t":1320,"v":-0.7},{"t":1330,"v":-0.35},{"t":1340,"v":0.2},{"t":1350,"v":-0.6},{"t":1360,"v":-0.9},{"t":1370,"v":-0.25},{"t":1380,"v":-0.55},{"t":1390,"v":-0.1},{"t":1400,"v":-1.05},{"t":1410,"v":-0.4},{"t":1420,"v":-0.65},{"t":1430,"v":0.0},{"t":1440,"v":-0.75},{"t":1450,"v":-0.3},{"t":1460,"v":-0.5},{"t":1470,"v":-1.2},{"t":1480,"v":-0.35},{"t":1490,"v":-0.6},{"t":1500,"v":0.1},{"t":1510,"v":-0.45},{"t":1520,"v":-0.85},{"t":1530,"v":-0.25},{"t":1540,"v":-0.6},{"t":1550,"v":0.25},{"t":1560,"v":-0.7},{"t":1570,"v":-0.3},{"t":1580,"v":-0.95},{"t":1590,"v":-0.4},{"t":1600,"v":-0.15},{"t":1610,"v":-0.65},{"t":1620,"v":-1.1},{"t":1630,"v":-0.35},{"t":1640,"v":-0.55},{"t":1650,"v":0.05},{"t":1660,"v":-0.8},{"t":1670,"v":-0.3},{"t":1680,"v":-0.6},{"t":1690,"v":-0.2},{"t":1700,"v":0.6},{"t":1710,"v":-0.7},{"t":1720,"v":-0.4},{"t":1730,"v":-1.0},{"t":1740,"v":-0.25},{"t":1750,"v":-0.55},{"t":1760,"v":0.1},{"t":1770,"v":-0.75},{"t":1780,"v":-0.35},{"t":1790,"v":-1.05},{"t":1800,"v":-0.45},{"t":1810,"v":-0.2},{"t":1820,"v":-0.7},{"t":1830,"v":0.15},{"t":1840,"v":-0.5},{"t":1850,"v":-0.9},{"t":1860,"v":-0.3},{"t":1870,"v":-0.6},{"t":1880,"v":-0.1},{"t":1890,"v":-1.1},{"t":1900,"v":-0.4},{"t":1910,"v":-0.65},{"t":1920,"v":0.0},{"t":1930,"v":-0.8},{"t":1940,"v":-0.35},{"t":1950,"v":-0.55},{"t":1960,"v":-1.6},{"t":1970,"v":-0.3},{"t":1980,"v":-0.7},{"t":1990,"v":-0.2},{"t":2000,"v":-0.85}],
"in10":[{"t":1950,"v":1.30},{"t":1951.5,"v":1.40},{"t":1952.7,"v":1.22},{"t":1954,"v":1.27},{"t":1955.5,"v":1.13},{"t":1957,"v":1.06},{"t":1958,"v":1.40},{"t":1959.2,"v":1.21},{"t":1960.5,"v":1.26},{"t":1962,"v":1.12},{"t":1963.3,"v":1.05},{"t":1964.3,"v":1.39},{"t":1965.5,"v":1.20},{"t":1966.8,"v":1.27},{"t":1968.3,"v":1.12},{"t":1969.9,"v":1.06},{"t":1970.9,"v":1.40},{"t":1972.1,"v":1.21},{"t":1973.4,"v":1.26},{"t":1974.9,"v":1.10},{"t":1976.4,"v":1.00},{"t":1977.5,"v":1.39},{"t":1978.7,"v":1.20},{"t":1980,"v":1.27},{"t":1981.4,"v":1.12},{"t":1982.7,"v":1.05},{"t":1983.7,"v":1.40},{"t":1984.9,"v":1.22},{"t":1986.2,"v":1.27},{"t":1987.8,"v":1.12},{"t":1989.3,"v":1.06},{"t":1990.3,"v":1.39},{"t":1991.5,"v":1.21},{"t":1992.8,"v":1.26},{"t":1994.3,"v":1.12},{"t":1995.9,"v":1.05},{"t":1996.9,"v":1.40},{"t":1998.1,"v":1.22},{"t":1999.3,"v":1.27},{"t":2000,"v":1.24}],
"in20":[{"t":1950,"v":0.85},{"t":1952.2,"v":0.60},{"t":1953,"v":1.45},{"t":1957.7,"v":0.62},{"t":1958.5,"v":1.38},{"t":1962.2,"v":0.60},{"t":1963,"v":1.45},{"t":1966.9,"v":0.62},{"t":1967.7,"v":1.50},{"t":1973.1,"v":0.60},{"t":1973.9,"v":1.60},{"t":1978,"v":0.62},{"t":1978.8,"v":1.52},{"t":1983.2,"v":0.60},{"t":1984,"v":1.45},{"t":1988.4,"v":0.62},{"t":1989.2,"v":1.42},{"t":1993.6,"v":0.60},{"t":1994.4,"v":1.40},{"t":1997.8,"v":0.64},{"t":1998.6,"v":1.35},{"t":2000,"v":1.05}],
"in30":[{"t":1950,"v":1.05},{"t":1951,"v":1.20},{"t":1955.5,"v":0.42},{"t":1956.7,"v":1.22},{"t":1960.8,"v":0.43},{"t":1962,"v":1.10},{"t":1966.1,"v":0.42},{"t":1967.3,"v":1.55},{"t":1971.6,"v":0.42},{"t":1972.8,"v":1.70},{"t":1976.5,"v":0.44},{"t":1977.7,"v":1.20},{"t":1982.7,"v":0.42},{"t":1983.9,"v":0.85},{"t":1988.2,"v":0.42},{"t":1989.4,"v":1.15},{"t":1993.8,"v":0.42},{"t":1995,"v":1.20},{"t":2000,"v":0.45}]
},
"concat":[
{"width":226,"height":155,"title":{"text":"ℳ = 10"},
 "resolve":{"scale":{"x":"independent","y":"independent"},"axis":{"x":"independent","y":"independent"}},
 "layer":[
  {"encoding":{"x":{"field":"t","type":"quantitative","scale":{"domain":[-100,2100],"nice":false,"zero":false},"axis":{"values":[0,1000,2000],"labels":false,"title":null,"tickSize":-4}},
     "y":{"field":"v","type":"quantitative","scale":{"domain":[0.3,2.0],"nice":false,"zero":false},"axis":{"values":[0.5,1,1.5,2],"format":".1f","title":"Ṁ/Ṁ₀","titleFontStyle":"italic","labelOverlap":false,"titleX":-37,"titleY":65.5,"titleBaseline":"middle"}}},
   "layer":[
   {"data":{"name":"band10"},"mark":{"type":"area","clip":true,"color":"#3456b0","opacity":0.32},"encoding":{"y2":{"field":"v2"}}},
   {"data":{"name":"top10"},"mark":{"type":"line","clip":true,"color":"#3456b0","strokeWidth":0.7,"opacity":0.38}},
   {"data":{"values":[{"t":1443,"v":1.057,"t2":1950,"v2":1.5},{"t":1443,"v":0.556,"t2":1950,"v2":1.0}]},"mark":{"type":"rule","color":"#b3b3b3","strokeWidth":1.2},"encoding":{"x2":{"field":"t2"},"y2":{"field":"v2"}}},
   {"data":{"values":[{"t":1950,"t2":2000,"v":1.0,"v2":1.5}]},"mark":{"type":"rect","fill":"#4d4d4d","fillOpacity":0.6,"stroke":"#555555","strokeWidth":1},"encoding":{"x2":{"field":"t2"},"y2":{"field":"v2"}}}
  ]},
  {"encoding":{"x":{"field":"t","type":"quantitative","scale":{"domain":[1950,2000],"range":[90.5,158.5],"nice":false,"zero":false},"axis":{"orient":"bottom","offset":-23.3,"values":[1950,2000],"format":"d","title":null,"zindex":2,"labelPadding":5}},
     "y":{"field":"v","type":"quantitative","scale":{"domain":[1.0,1.5],"range":[131.7,86],"nice":false,"zero":false},"axis":{"orient":"left","offset":-90.5,"values":[1,1.5],"format":".1f","title":null,"zindex":2,"labelOverlap":false}}},
   "layer":[
   {"data":{"values":[{"t":1950,"t2":2000,"v":1.0,"v2":1.5}]},"mark":{"type":"rect","fill":"white","stroke":"black","strokeWidth":1.2},"encoding":{"x2":{"field":"t2"},"y2":{"field":"v2"}}},
   {"data":{"name":"in10"},"mark":{"type":"line","color":"#3a5cc0","strokeWidth":1.1}}
  ]}
 ]},
{"width":226,"height":155,"title":{"text":"ℳ = 20"},
 "resolve":{"scale":{"x":"independent","y":"independent"},"axis":{"x":"independent","y":"independent"}},
 "layer":[
  {"encoding":{"x":{"field":"t","type":"quantitative","scale":{"domain":[-100,2100],"nice":false,"zero":false},"axis":{"values":[0,1000,2000],"labels":false,"title":null,"tickSize":-4}},
     "y":{"field":"v","type":"quantitative","scale":{"domain":[0.3,2.0],"nice":false,"zero":false},"axis":{"values":[0.5,1,1.5,2],"format":".1f","title":null,"labelOverlap":false}}},
   "layer":[
   {"data":{"name":"band20"},"mark":{"type":"area","clip":true,"color":"#4aa394","opacity":0.32},"encoding":{"y2":{"field":"v2"}}},
   {"data":{"name":"top20"},"mark":{"type":"line","clip":true,"color":"#4aa394","strokeWidth":0.7,"opacity":0.38}},
   {"data":{"values":[{"t":1443,"v":1.057,"t2":1950,"v2":1.65},{"t":1443,"v":0.556,"t2":1950,"v2":0.57}]},"mark":{"type":"rule","color":"#b3b3b3","strokeWidth":1.2},"encoding":{"x2":{"field":"t2"},"y2":{"field":"v2"}}},
   {"data":{"values":[{"t":1950,"t2":2000,"v":0.57,"v2":1.65}]},"mark":{"type":"rect","fill":"#4d4d4d","fillOpacity":0.6,"stroke":"#555555","strokeWidth":1},"encoding":{"x2":{"field":"t2"},"y2":{"field":"v2"}}}
  ]},
  {"encoding":{"x":{"field":"t","type":"quantitative","scale":{"domain":[1950,2000],"range":[90.5,158.5],"nice":false,"zero":false},"axis":{"orient":"bottom","offset":-23.3,"values":[1950,2000],"format":"d","title":null,"zindex":2,"labelPadding":5}},
     "y":{"field":"v","type":"quantitative","scale":{"domain":[0.57,1.65],"range":[131.7,86],"nice":false,"zero":false},"axis":{"orient":"left","offset":-90.5,"values":[1,1.5],"format":".1f","title":null,"zindex":2,"labelOverlap":false}}},
   "layer":[
   {"data":{"values":[{"t":1950,"t2":2000,"v":0.57,"v2":1.65}]},"mark":{"type":"rect","fill":"white","stroke":"black","strokeWidth":1.2},"encoding":{"x2":{"field":"t2"},"y2":{"field":"v2"}}},
   {"data":{"name":"in20"},"mark":{"type":"line","color":"#52ab9c","strokeWidth":1.1}}
  ]}
 ]},
{"width":226,"height":155,"title":{"text":"ℳ = 30"},
 "resolve":{"scale":{"x":"independent","y":"independent"},"axis":{"x":"independent","y":"independent"}},
 "layer":[
  {"encoding":{"x":{"field":"t","type":"quantitative","scale":{"domain":[-100,2100],"nice":false,"zero":false},"axis":{"values":[0,1000,2000],"labels":false,"title":null,"tickSize":-4}},
     "y":{"field":"v","type":"quantitative","scale":{"domain":[0.3,2.0],"nice":false,"zero":false},"axis":{"values":[0.5,1,1.5,2],"format":".1f","title":null,"labelOverlap":false}}},
   "layer":[
   {"data":{"name":"band30"},"mark":{"type":"area","clip":true,"color":"#a9d866","opacity":0.32},"encoding":{"y2":{"field":"v2"}}},
   {"data":{"name":"top30"},"mark":{"type":"line","clip":true,"color":"#a9d866","strokeWidth":0.7,"opacity":0.4}},
   {"data":{"values":[{"t":1443,"v":1.057,"t2":1950,"v2":1.75},{"t":1443,"v":0.556,"t2":1950,"v2":0.37}]},"mark":{"type":"rule","color":"#b3b3b3","strokeWidth":1.2},"encoding":{"x2":{"field":"t2"},"y2":{"field":"v2"}}},
   {"data":{"values":[{"t":1950,"t2":2000,"v":0.37,"v2":1.75}]},"mark":{"type":"rect","fill":"#4d4d4d","fillOpacity":0.6,"stroke":"#555555","strokeWidth":1},"encoding":{"x2":{"field":"t2"},"y2":{"field":"v2"}}}
  ]},
  {"encoding":{"x":{"field":"t","type":"quantitative","scale":{"domain":[1950,2000],"range":[90.5,158.5],"nice":false,"zero":false},"axis":{"orient":"bottom","offset":-23.3,"values":[1950,2000],"format":"d","title":null,"zindex":2,"labelPadding":5}},
     "y":{"field":"v","type":"quantitative","scale":{"domain":[0.37,1.75],"range":[131.7,86],"nice":false,"zero":false},"axis":{"orient":"left","offset":-90.5,"values":[0.5,1,1.5],"format":".1f","title":null,"zindex":2,"labelOverlap":false}}},
   "layer":[
   {"data":{"values":[{"t":1950,"t2":2000,"v":0.37,"v2":1.75}]},"mark":{"type":"rect","fill":"white","stroke":"black","strokeWidth":1.2},"encoding":{"x2":{"field":"t2"},"y2":{"field":"v2"}}},
   {"data":{"name":"in30"},"mark":{"type":"line","color":"#b0dc74","strokeWidth":1.1}}
  ]}
 ]},
{"width":226,"height":155,
 "encoding":{"x":{"field":"t","type":"quantitative","scale":{"domain":[-100,2100],"nice":false,"zero":false},"axis":{"values":[0,1000,2000],"format":"d","title":"Time (2πΩ_b⁻¹)"}},
    "y":{"field":"v","type":"quantitative","scale":{"domain":[-1.5,0.95],"nice":false,"zero":false},"axis":{"values":[-1.5,-1,-0.5,0,0.5],"format":".1f","title":"J̇/Ṁ","titleFontStyle":"italic","labelOverlap":false,"titleX":-37,"titleY":65.5,"titleBaseline":"middle"}}},
 "layer":[
  {"data":{"values":[{"t":0,"t2":2000,"v":0.724,"lab":"l₀ = 0.724"}]},"mark":{"type":"rule","strokeDash":[5,3],"strokeWidth":1.6},
   "encoding":{"x2":{"field":"t2"},"color":{"field":"lab","type":"nominal","scale":{"range":["#2a4494"]},"legend":{"title":null,"orient":"bottom-right"}}}},
  {"data":{"name":"bot10"},"mark":{"type":"line","clip":true,"color":"#3456b0","strokeWidth":0.8,"opacity":0.85}}
 ]},
{"width":226,"height":155,
 "encoding":{"x":{"field":"t","type":"quantitative","scale":{"domain":[-100,2100],"nice":false,"zero":false},"axis":{"values":[0,1000,2000],"format":"d","title":"Time (2πΩ_b⁻¹)"}},
    "y":{"field":"v","type":"quantitative","scale":{"domain":[-1.5,0.95],"nice":false,"zero":false},"axis":{"values":[-1.5,-1,-0.5,0,0.5],"format":".1f","title":null,"labelOverlap":false}}},
 "layer":[
  {"data":{"values":[{"t":0,"t2":2000,"v":0.14,"lab":"l₀ = 0.140"}]},"mark":{"type":"rule","strokeDash":[5,3],"strokeWidth":1.6},
   "encoding":{"x2":{"field":"t2"},"color":{"field":"lab","type":"nominal","scale":{"range":["#3f9a8a"]},"legend":{"title":null,"orient":"bottom-right"}}}},
  {"data":{"name":"bot20"},"mark":{"type":"line","clip":true,"color":"#4aa394","strokeWidth":0.8,"opacity":0.8}}
 ]},
{"width":226,"height":155,
 "encoding":{"x":{"field":"t","type":"quantitative","scale":{"domain":[-100,2100],"nice":false,"zero":false},"axis":{"values":[0,1000,2000],"format":"d","title":"Time (2πΩ_b⁻¹)"}},
    "y":{"field":"v","type":"quantitative","scale":{"domain":[-1.5,0.95],"nice":false,"zero":false},"axis":{"values":[-1.5,-1,-0.5,0,0.5],"format":".1f","title":null,"labelOverlap":false}}},
 "layer":[
  {"data":{"values":[{"t":0,"t2":2000,"v":-0.48,"lab":"l₀ = -0.480"}]},"mark":{"type":"rule","strokeDash":[5,3],"strokeWidth":1.6},
   "encoding":{"x2":{"field":"t2"},"color":{"field":"lab","type":"nominal","scale":{"range":["#a9d866"]},"legend":{"title":null,"orient":"top-right"}}}},
  {"data":{"name":"bot30"},"mark":{"type":"line","clip":true,"color":"#a9d866","strokeWidth":0.8,"opacity":0.75}}
 ]}
],
"columns":3,
"spacing":{"row":0,"column":45},
"bounds":"flush",
"resolve":{"scale":{"x":"independent","y":"independent","color":"independent"},"axis":{"x":"independent","y":"independent"},"legend":{"color":"independent"}},
"config":{
 "font":"Liberation Serif",
 "view":{"stroke":"black","strokeWidth":1.2},
 "axis":{"labelFont":"Liberation Serif","labelFontSize":14,"labelColor":"black","titleFont":"Liberation Serif","titleFontSize":18,"titleFontWeight":"normal","titleColor":"black","tickColor":"black","tickSize":3,"tickWidth":1,"labelPadding":1,"domain":false,"grid":false,"labelFlush":false,"labelOverlap":false,"titlePadding":1},
 "legend":{"labelFont":"Liberation Serif","labelFontSize":14,"labelColor":"black","symbolType":"stroke","symbolStrokeWidth":1.6,"symbolSize":650,"symbolDash":[4.5,2.5],"fillColor":"rgba(255,255,255,0.85)","strokeColor":"#cccccc","cornerRadius":3,"padding":5,"offset":6,"labelOffset":12},
 "title":{"font":"Liberation Serif","fontSize":20,"fontWeight":"normal","color":"black","offset":-1,"frame":"group"}
}
}
